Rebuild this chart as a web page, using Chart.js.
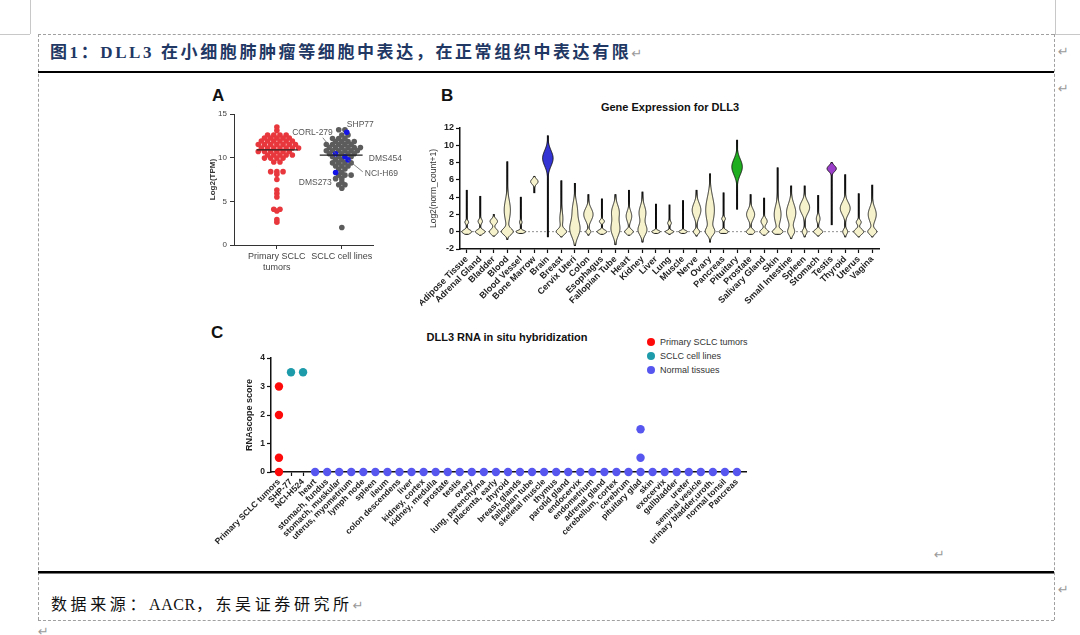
<!DOCTYPE html>
<html><head><meta charset="utf-8">
<script src="https://cdn.jsdelivr.net/npm/chart.js@4.4.1/dist/chart.umd.min.js"></script>
<style>
html,body{margin:0;padding:0;background:#fff;}
body{width:1080px;height:635px;position:relative;overflow:hidden;font-family:"Liberation Sans",Arial,sans-serif;}
.abs{position:absolute;white-space:nowrap;}
canvas{position:absolute;}
.dv{position:absolute;width:0;border-left:1px dashed #a0a0a0;}
.dh{position:absolute;height:0;border-top:1px dashed #a0a0a0;}
.ret{position:absolute;color:#9a9a9a;font-size:13px;font-family:"DejaVu Sans",sans-serif;line-height:14px;}
.plab{position:absolute;font:bold 17px "Liberation Sans",Arial,sans-serif;color:#111;}
.ptitle{position:absolute;font:bold 11px "Liberation Sans",Arial,sans-serif;color:#111;transform:translateX(-50%);white-space:nowrap;}
.leg{position:absolute;font:9px "Liberation Sans",Arial,sans-serif;color:#333;white-space:nowrap;}
.leg i{display:inline-block;width:8px;height:8px;border-radius:50%;margin-right:5px;vertical-align:-1px;}
</style></head><body>

<!-- document frame -->
<div class="abs" style="left:1055px;top:0;width:1px;height:34px;background:#c8c8c8"></div>
<div class="abs" style="left:1055px;top:34px;width:25px;height:1px;background:#c8c8c8"></div>
<div class="abs" style="left:30px;top:0;width:1px;height:34px;background:#c8c8c8"></div>
<div class="abs" style="left:0;top:34px;width:30px;height:1px;background:#c8c8c8"></div>
<div class="dh" style="left:38px;top:34px;width:1016px;"></div>
<div class="dv" style="left:38px;top:34px;height:586px;"></div>
<div class="dv" style="left:1054px;top:34px;height:586px;"></div>
<div class="dh" style="left:38px;top:620px;width:1016px;"></div>
<div class="abs" style="left:38px;top:71px;width:1016px;height:2px;background:#000"></div>
<div class="abs" style="left:38px;top:571px;width:1016px;height:2px;background:#000"></div>
<div class="abs" style="left:38px;top:573px;width:1016px;height:1px;background:#777"></div>

<div class="abs" style="left:50px;top:43px;font:bold 17px 'Liberation Serif','Noto Sans CJK SC',serif;color:#1f3864;letter-spacing:2.6px;line-height:20px;">图1：DLL3 在小细胞肺肿瘤等细胞中表达，在正常组织中表达有限<span style="color:#999;font:13px 'DejaVu Sans';letter-spacing:0">↵</span></div>
<div class="abs" style="left:51px;top:595px;font:16px 'Liberation Serif','Noto Sans CJK SC',serif;color:#111;letter-spacing:3.6px;line-height:20px;">数据来源：<span style="letter-spacing:0.6px">AACR</span>，东吴证券研究所<span style="color:#999;font:13px 'DejaVu Sans';letter-spacing:0">↵</span></div>
<div class="ret" style="left:1058px;top:45px;">↵</div>
<div class="ret" style="left:1058px;top:82px;">↵</div>
<div class="ret" style="left:934px;top:548px;">↵</div>
<div class="ret" style="left:1058px;top:583px;">↵</div>
<div class="ret" style="left:38px;top:625px;">↵</div>

<!-- panel labels and titles -->
<div class="plab" style="left:212px;top:86px;">A</div>
<div class="plab" style="left:441px;top:86px;">B</div>
<div class="plab" style="left:211px;top:323px;">C</div>
<div class="ptitle" style="left:670px;top:101px;">Gene Expression for DLL3</div>
<div class="ptitle" style="left:507px;top:331px;">DLL3 RNA in situ hybridization</div>
<div id="legC"></div>

<canvas id="cA" width="215" height="185" style="left:200px;top:100px;"></canvas>
<canvas id="cB" width="470" height="225" style="left:420px;top:95px;"></canvas>
<canvas id="cC" width="555" height="215" style="left:205px;top:340px;"></canvas>

<script>
// ---------------- DATA ----------------
// Panel A
const groupsA = [['Primary SCLC', 'tumors'], ['SCLC cell lines']];
const tumorTPM = [13.5, 13.1,
  12.6, 12.6, 12.6, 12.6,
  12.25, 12.25, 12.25, 12.25, 12.25,
  11.9, 11.9, 11.9, 11.9, 11.9, 11.9,
  11.5, 11.5, 11.5, 11.5, 11.5, 11.5, 11.5,
  11.1, 11.1, 11.1, 11.1, 11.1, 11.1, 11.1,
  10.7, 10.7, 10.7, 10.7, 10.7, 10.7,
  10.3, 10.3, 10.3, 10.3, 10.3,
  9.95, 9.95, 9.95, 9.95,
  9.5, 9.5,
  8.4, 8.4, 8.4, 8.1, 7.5,
  6.3, 5.9, 5.5,
  4.1, 4.1, 3.9, 2.9, 2.6];
const cellLineTPM = [13.2, 13.2,
  12.6, 12.6,
  12.2, 12.2, 12.2,
  11.85, 11.85, 11.85, 11.85,
  11.5, 11.5, 11.5, 11.5, 11.5,
  11.15, 11.15, 11.15, 11.15, 11.15, 11.15,
  10.8, 10.8, 10.8, 10.8, 10.8, 10.8,
  10.45, 10.45, 10.45, 10.45,
  10.1, 10.1, 10.1,
  9.75, 9.75,
  9.4, 9.4, 9.4, 9.4,
  9.05, 9.05, 9.05,
  8.7, 8.7,
  8.3,
  8.0, 8.0, 8.0,
  7.6, 7.6, 7.2, 6.9, 6.9, 6.5,
  2.0];
const labeledLines = ['SHP77', 'CORL-279', 'DMS454', 'NCI-H69', 'DMS273'];
const labeledTPM = [12.9, 10.45, 10.1, 9.75, 8.3];
const mediansA = [10.9, 10.3];

// Panel B
const tissuesB = ['Adipose Tissue','Adrenal Gland','Bladder','Blood','Blood Vessel','Bone Marrow','Brain','Breast',
  'Cervix Uteri','Colon','Esophagus','Fallopian Tube','Heart','Kidney','Liver','Lung','Muscle','Nerve','Ovary',
  'Pancreas','Pituitary','Prostate','Salivary Gland','Skin','Small Intestine','Spleen','Stomach','Testis',
  'Thyroid','Uterus','Vagina'];
const minB = [-0.3,-0.4,-0.5,-0.9,-0.2,4.5,-0.6,-0.6,-1.6,-0.4,-0.3,-1.5,-0.4,-1.2,-0.2,-0.3,-0.2,-0.5,-1.2,
  -0.2,2.6,-0.3,-0.4,-0.3,-0.8,-0.6,-0.5,0.8,-0.6,-0.6,-0.6];
const maxB = [4.8,4.1,2.0,8.1,4.0,6.4,11.1,5.9,5.6,4.3,3.8,4.3,4.8,4.6,3.2,3.1,3.6,4.8,6.7,
  4.5,10.6,4.3,3.9,7.4,5.3,5.3,4.2,8.0,6.6,4.4,5.4];
// density modes per tissue: [centre, spread, relative density]
const modesB = [
  [[0,0.22,0.8],[1.1,0.2,0.3]],
  [[0,0.22,0.8],[1.2,0.25,0.35]],
  [[0,0.3,0.7],[1.2,0.3,0.6]],
  [[0,0.35,0.9],[2.5,1.2,0.5]],
  [[0,0.15,0.8],[1.1,0.2,0.2]],
  [[5.8,0.3,0.6]],
  [[8.5,0.9,0.85]],
  [[0,0.3,0.8],[1.5,0.8,0.25]],
  [[0.3,0.9,0.8],[2.5,1.0,0.4]],
  [[0,0.2,0.4],[2.0,0.7,0.75]],
  [[0,0.2,0.8],[1.2,0.2,0.4]],
  [[0.3,0.8,0.7],[2.3,0.8,0.6]],
  [[0,0.25,0.7],[1.8,0.6,0.45]],
  [[0.2,0.6,0.7],[2.2,0.8,0.55]],
  [[0,0.15,0.7]],
  [[0,0.15,0.7],[1.0,0.2,0.3]],
  [[0,0.15,0.7]],
  [[0,0.25,0.5],[2.5,0.8,0.7]],
  [[0,0.4,0.6],[2.5,1.5,0.7]],
  [[0,0.2,0.75],[1.5,0.2,0.3]],
  [[7.5,0.9,0.85]],
  [[0,0.25,0.7],[2.0,0.6,0.65]],
  [[0,0.25,0.7],[1.2,0.35,0.5]],
  [[0,0.25,0.8],[2.0,1.0,0.55]],
  [[0,0.4,0.5],[2.2,1.0,0.75]],
  [[0,0.3,0.4],[2.8,0.7,0.8]],
  [[0,0.25,0.75],[1.5,0.4,0.3]],
  [[7.3,0.35,0.75]],
  [[0,0.3,0.4],[2.7,0.7,0.8]],
  [[0,0.3,0.8],[1.1,0.25,0.4]],
  [[0,0.3,0.7],[2.0,0.8,0.65]]
];

// Panel C
const tumorScores = [3, 2, 0.5, 0];
const cellLinesC = ['SHP-77', 'NCI-H524'];
const cellLineScores = [3.5, 3.5];
const normalTissues = ['heart','stomach, fundus','stomach, muskular','uterus, myometrium','lymph node','spleen','ileum',
  'colon descendens','liver','kidney, cortex','kidney, medulla','prostate','testis','ovary','lung, parenchyma',
  'placenta, early','thyroid','breast, glands','fallopian tube','skeletal muscle','thymus','parotid gland',
  'endocervix','endometrium','adrenal gland','cerebellum, cortex','cerebrum','pituitary glad','skin','exocervix',
  'gallbladder','ureter','seminal vesicle','urinary bladder,uroth.','normal tonsil','Pancreas'];
const normalScores = normalTissues.map(t => t === 'pituitary glad' ? [0, 0.5, 1.5] : [0]);
const categoriesC = ['Primary SCLC tumors'].concat(cellLinesC, normalTissues);
const seriesC = ['Primary SCLC tumors', 'SCLC cell lines', 'Normal tissues'];

// ---------------- STYLE ----------------
Chart.defaults.font.family = '"Liberation Sans", Arial, sans-serif';
Chart.defaults.animation = false;
const highlightB = {Brain: '#3434d4', Pituitary: '#1fae1f', Testis: '#9b3ec9'};
const creamB = '#f6f3cc';
const colorsC = ['#ff0a0a', '#1d9bab', '#5757f0'];

// deterministic dot-plot row layout: equal values share a row, adjacent rows staggered.
// sides: optional preferred side (-1/1) for individual points.
function dotRows(values, sides, centre, pxPerY, pxPerX, s, diam) {
  const groups = new Map();
  values.forEach((v, i) => { const k = v.toFixed(2); if (!groups.has(k)) groups.set(k, []); groups.get(k).push(i); });
  const keys = [...groups.keys()].sort((a, b) => b - a);
  const xs = new Array(values.length);
  let prev = null, flip = 1;
  for (const k of keys) {
    const idx = groups.get(k), n = idx.length, y = +k * pxPerY;
    const natural = ((n - 1) / 2) % 1;
    let shift = 0;
    if (prev && Math.abs(prev.y - y) < diam && n > 1) {
      const want = (prev.phase + 0.5) % 1;
      if (Math.abs(want - natural) > 0.01) { shift = flip * s / 2; flip = -flip; }
    }
    const slots = [];
    for (let j = 0; j < n; j++) slots.push((j - (n - 1) / 2) * s + shift);
    const free = slots.slice();
    const sided = idx.filter(i => sides && sides[i]);
    const plain = idx.filter(i => !(sides && sides[i]));
    sided.forEach(i => {
      const sd = sides[i];
      if (n === 1) { xs[i] = centre + sd * s * 0.8 / pxPerX; return; }
      let best = -1;
      free.forEach((p, j) => { if (p * sd > 0 && (best < 0 || Math.abs(p) < Math.abs(free[best]))) best = j; });
      if (best < 0) best = 0;
      xs[i] = centre + free[best] / pxPerX; free.splice(best, 1);
    });
    plain.forEach((i, j) => { xs[i] = centre + free[j] / pxPerX; });
    const phase = n === 1 && sided.length ? prev ? prev.phase : 0 : ((((n - 1) / 2 + shift / s) % 1) + 1) % 1;
    prev = {y, phase};
  }
  return xs;
}

// ---------------- PANEL A ----------------
const pxY_A = 131 / 15, pxX_A = 65, stepA = 6.2;
const xsTumor = dotRows(tumorTPM, null, 1, pxY_A, pxX_A, stepA, 6);
const allLines = cellLineTPM.concat(labeledTPM);
const sidesLines = cellLineTPM.map(() => 0).concat([1, -1, 1, 1, -1]);
const xsLines = dotRows(allLines, sidesLines, 2, pxY_A, pxX_A, stepA, 6);
// label offsets (px) from the group centre / value position
const labelStyleA = [
  {dx: 5, dy: -8, align: 'left'},
  {dx: -9, dy: -21, align: 'right', from: [-19, -16]},
  {dx: 27, dy: 2, align: 'left'},
  {dx: 23, dy: 14, align: 'left', from: [21, 12]},
  {dx: -10, dy: 10, align: 'right'}
];
const labelPluginA = {
  id: 'labelsA',
  afterDatasetsDraw(chart) {
    const meta = chart.getDatasetMeta(2);
    const {ctx, scales: {x, y}} = chart;
    const cx = x.getPixelForValue(2);
    ctx.save();
    ctx.font = '8.5px "Liberation Sans", Arial';
    ctx.fillStyle = '#555'; ctx.strokeStyle = '#666'; ctx.lineWidth = 0.8;
    ctx.textBaseline = 'middle';
    meta.data.forEach((pt, i) => {
      const s = labelStyleA[i];
      const vy = y.getPixelForValue(labeledTPM[i]);
      ctx.textAlign = s.align;
      ctx.fillText(labeledLines[i], cx + s.dx, vy + s.dy);
      if (s.from) {
        ctx.beginPath(); ctx.moveTo(cx + s.from[0], vy + s.from[1]); ctx.lineTo(pt.x, pt.y); ctx.stroke();
      }
    });
    ctx.restore();
  }
};
new Chart(document.getElementById('cA'), {
  type: 'scatter',
  data: {datasets: [
    {type: 'line', data: [{x: 1 - 0.31, y: mediansA[0]}, {x: 1 + 0.32, y: mediansA[0]}], borderColor: '#222', borderWidth: 1.3, pointRadius: 0, order: 0, clip: false},
    {type: 'line', data: [{x: 2 - 0.34, y: mediansA[1]}, {x: 2 + 0.32, y: mediansA[1]}], borderColor: '#222', borderWidth: 1.3, pointRadius: 0, order: 0, clip: false},
    {data: labeledTPM.map((v, i) => ({x: xsLines[cellLineTPM.length + i], y: v})), backgroundColor: '#1414e6', pointRadius: 2.8, borderWidth: 0, order: 1, clip: false},
    {data: cellLineTPM.map((v, i) => ({x: xsLines[i], y: v})), backgroundColor: '#5c5c5c', pointRadius: 2.8, borderWidth: 0, order: 2, clip: false},
    {data: tumorTPM.map((v, i) => ({x: xsTumor[i], y: v})), backgroundColor: '#e8383d', pointRadius: 2.8, borderWidth: 0, order: 3, clip: false}
  ]},
  options: {
    responsive: false, devicePixelRatio: 1,
    layout: {padding: {left: 0, top: 14, right: 42, bottom: 0}},
    plugins: {legend: {display: false}, tooltip: {enabled: false}},
    scales: {
      x: {type: 'linear', min: 0.34, max: 2.48,
        afterBuildTicks: s => { s.ticks = groupsA.map((g, i) => ({value: i + 1})); },
        afterFit: s => { s.height = 40; s.paddingLeft = 0; s.paddingRight = 0; },
        ticks: {autoSkip: false, maxRotation: 0, minRotation: 0, padding: 2, color: '#444',
          font: {size: 9, lineHeight: 1.2}, callback: v => groupsA[v - 1]},
        grid: {drawOnChartArea: false, drawTicks: true, tickLength: 4, tickColor: '#333'},
        border: {color: '#333', width: 1}},
      y: {min: 0, max: 15,
        afterFit: s => { s.width = 34; s.paddingTop = 0; s.paddingBottom = 0; },
        ticks: {stepSize: 5, color: '#444', font: {size: 8}, padding: 3},
        title: {display: true, text: 'Log2(TPM)', color: '#333', font: {size: 8, weight: 'bold'}, padding: {top: 8, bottom: 0}},
        grid: {drawOnChartArea: false, drawTicks: true, tickLength: 4, tickColor: '#333'},
        border: {color: '#333', width: 1}}
    }
  },
  plugins: [labelPluginA]
});

// ---------------- PANEL B ----------------
const HALF_B = 6.2;
const violinPlugin = {
  id: 'violins',
  beforeDatasetsDraw(chart) {
    const {ctx, chartArea, scales: {y}} = chart;
    const y0 = y.getPixelForValue(0);
    ctx.save();
    ctx.setLineDash([2, 2]); ctx.strokeStyle = '#777'; ctx.lineWidth = 0.8;
    ctx.beginPath(); ctx.moveTo(chartArea.left, y0); ctx.lineTo(chartArea.right, y0); ctx.stroke();
    ctx.restore();
  },
  afterDatasetsDraw(chart) {
    const {ctx, scales: {x, y}} = chart;
    ctx.save();
    tissuesB.forEach((t, i) => {
      const cx = x.getPixelForValue(i);
      const n = 140, pts = [];
      for (let k = 0; k <= n; k++) {
        const v = minB[i] + (maxB[i] - minB[i]) * k / n;
        let w = 0;
        modesB[i].forEach(([c, s, a]) => { w += a * Math.exp(-0.5 * ((v - c) / s) ** 2); });
        pts.push([y.getPixelForValue(v), Math.min(1, w) * HALF_B]);
      }
      ctx.beginPath();
      pts.forEach(([py, w], k) => k ? ctx.lineTo(cx + w, py) : ctx.moveTo(cx + w, py));
      for (let k = pts.length - 1; k >= 0; k--) ctx.lineTo(cx - pts[k][1], pts[k][0]);
      ctx.closePath();
      ctx.fillStyle = highlightB[t] || creamB;
      ctx.fill();
      ctx.strokeStyle = '#111'; ctx.lineWidth = 0.9; ctx.stroke();
    });
    ctx.restore();
  }
};
new Chart(document.getElementById('cB'), {
  type: 'bar',
  data: {labels: tissuesB, datasets: [{
    data: tissuesB.map((t, i) => [minB[i], maxB[i]]),
    backgroundColor: '#111', borderWidth: 0, barThickness: 1.3
  }]},
  options: {
    responsive: false, devicePixelRatio: 1,
    layout: {padding: {left: 0, top: 33, right: 11, bottom: 0}},
    plugins: {legend: {display: false}, tooltip: {enabled: false}},
    scales: {
      x: {offset: true,
        afterFit: s => { s.height = 71; s.paddingLeft = 0; s.paddingRight = 0; },
        ticks: {autoSkip: false, minRotation: 45, maxRotation: 45, padding: 1, color: '#222', font: {size: 9, weight: 'bold'}},
        grid: {offset: false, drawOnChartArea: false, drawTicks: true, tickLength: 4, tickColor: '#111', tickWidth: 1.2},
        border: {color: '#111', width: 1.5}},
      y: {min: -2, max: 12,
        afterFit: s => { s.width = 40; s.paddingTop = 0; s.paddingBottom = 0; },
        ticks: {stepSize: 2, color: '#222', font: {size: 9, weight: 'bold'}, padding: 2},
        title: {display: true, text: 'Log2(norm_count+1)', color: '#333', font: {size: 8.5}, padding: {top: 9, bottom: 0}},
        grid: {drawOnChartArea: false, drawTicks: true, tickLength: 4, tickColor: '#111', tickWidth: 1.2},
        border: {color: '#111', width: 1.5}}
    }
  },
  plugins: [violinPlugin]
});

// ---------------- PANEL C ----------------
const nC = cellLinesC.length + 1;
const dsC = [
  {label: seriesC[0], data: tumorScores.map(v => ({x: 0, y: v}))},
  {label: seriesC[1], data: cellLineScores.map((v, i) => ({x: 1 + i, y: v}))},
  {label: seriesC[2], data: normalScores.flatMap((arr, i) => arr.map(v => ({x: nC + i, y: v})))}
].map((d, i) => Object.assign(d, {backgroundColor: colorsC[i], borderWidth: 0, pointRadius: 4.2, clip: false}));
new Chart(document.getElementById('cC'), {
  type: 'scatter',
  data: {datasets: dsC},
  options: {
    responsive: false, devicePixelRatio: 1,
    layout: {padding: {left: 0, top: 18, right: 14, bottom: 0}},
    plugins: {legend: {display: false}, tooltip: {enabled: false}},
    scales: {
      x: {type: 'linear', min: -0.66, max: 38.75,
        afterBuildTicks: s => { s.ticks = categoriesC.map((c, i) => ({value: i})); },
        afterFit: s => { s.height = 83; s.paddingLeft = 0; s.paddingRight = 0; },
        ticks: {autoSkip: false, minRotation: 45, maxRotation: 45, padding: 1, color: '#222',
          font: {size: 8.5, weight: 'bold'}, callback: v => categoriesC[v]},
        grid: {drawOnChartArea: false, drawTicks: true, tickLength: 4, tickColor: '#111', tickWidth: 1.2},
        border: {color: '#111', width: 1.5}},
      y: {min: 0, max: 4,
        afterFit: s => { s.width = 66; s.paddingTop = 0; s.paddingBottom = 0; },
        ticks: {stepSize: 1, color: '#222', font: {size: 8.5, weight: 'bold'}, padding: 2},
        title: {display: true, text: 'RNAscope score', color: '#222', font: {size: 9, weight: 'bold'}, padding: {top: 39, bottom: 0}},
        grid: {drawOnChartArea: false, drawTicks: true, tickLength: 4, tickColor: '#111', tickWidth: 1.2},
        border: {color: '#111', width: 1.5}}
    }
  }
});
// legend for panel C
const leg = document.getElementById('legC');
dsC.forEach((d, i) => {
  const el = document.createElement('div');
  el.className = 'leg';
  el.style.left = '647px';
  el.style.top = (337 + i * 14) + 'px';
  el.innerHTML = '<i style="background:' + d.backgroundColor + '"></i>' + d.label;
  leg.appendChild(el);
});
</script>
</body></html>
